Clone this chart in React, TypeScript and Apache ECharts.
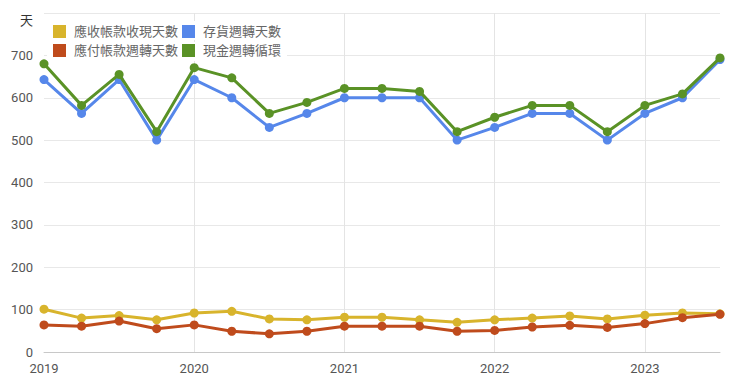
import React, { useEffect, useRef } from "react";
import * as echarts from "echarts";

const quarters = [
  "2019Q1", "2019Q2", "2019Q3", "2019Q4",
  "2020Q1", "2020Q2", "2020Q3", "2020Q4",
  "2021Q1", "2021Q2", "2021Q3", "2021Q4",
  "2022Q1", "2022Q2", "2022Q3", "2022Q4",
  "2023Q1", "2023Q2", "2023Q3",
];

const receivableDays = [101, 80, 86, 76, 92, 96, 78, 76, 82, 82, 76, 70, 76, 80, 85, 78, 87, 92, 90];
const inventoryDays = [643, 563, 643, 500, 643, 600, 530, 563, 600, 600, 600, 500, 530, 563, 563, 500, 563, 600, 690];
const payableDays = [64, 61, 73, 55, 64, 49, 43, 49, 61, 61, 61, 49, 51, 59, 63, 58, 67, 81, 89];
const cashCycle = [680, 582, 655, 520, 671, 647, 563, 589, 622, 622, 615, 520, 554, 582, 582, 520, 582, 609, 694];

const seriesNames = ["應收帳款收現天數", "存貨週轉天數", "應付帳款週轉天數", "現金週轉循環"];
const seriesColors = ["#d8b42c", "#5687ea", "#bf4b1c", "#5a9226"];

const FONT = "Roboto, 'Noto Sans CJK TC', sans-serif";

export default function App() {
  const ref = useRef<HTMLDivElement>(null);

  useEffect(() => {
    if (!ref.current) return;
    const chart = echarts.init(ref.current, undefined, { renderer: "svg" });
    const dataSets = [receivableDays, inventoryDays, payableDays, cashCycle];
    const legendCommon = {
      itemWidth: 13,
      itemHeight: 13,
      itemGap: 4,
      icon: "rect",
      backgroundColor: "#ffffff",
      textStyle: { color: "#666", fontSize: 13, fontFamily: FONT, padding: [0, 0, 0, 3] },
    };
    chart.setOption({
      animation: false,
      backgroundColor: "#ffffff",
      textStyle: { fontFamily: FONT },
      legend: [
        { ...legendCommon, left: 47, top: 21, padding: [4, 6, 2, 6], data: [seriesNames[0], seriesNames[1]] },
        { ...legendCommon, left: 47, top: 42, padding: [2, 6, 4, 6], data: [seriesNames[2], seriesNames[3]] },
      ],
      grid: { left: 44, right: 20, top: 13, bottom: 39, containLabel: false },
      xAxis: {
        type: "category",
        data: quarters,
        boundaryGap: false,
        axisLine: { show: true, lineStyle: { color: "#c8c8c8", width: 1 } },
        axisTick: { show: false },
        axisLabel: {
          interval: 3,
          color: "#555",
          fontSize: 13,
          fontFamily: FONT,
          margin: 10,
          formatter: (v: string) => v.slice(0, 4),
        },
        splitLine: {
          show: true,
          interval: (index: number) => index % 4 === 0 && index > 0,
          lineStyle: { color: "#e4e4e4", width: 1 },
        },
      },
      yAxis: {
        type: "value",
        min: 0,
        max: 800,
        interval: 100,
        name: "天",
        nameLocation: "end",
        nameGap: -7,
        nameTextStyle: {
          color: "#333",
          fontSize: 13,
          fontFamily: FONT,
          align: "right",
          verticalAlign: "middle",
          padding: [0, 11, 0, 0],
        },
        axisLine: { show: false },
        axisTick: { show: false },
        axisLabel: {
          color: "#555",
          fontSize: 13,
          fontFamily: FONT,
          margin: 11,
          formatter: (v: number) => (v === 800 ? "" : String(v)),
        },
        splitLine: { lineStyle: { color: "#e8e8e8", width: 1 } },
      },
      series: seriesNames.map((name, i) => ({
        name,
        type: "line",
        data: dataSets[i],
        color: seriesColors[i],
        symbol: "circle",
        symbolSize: 9,
        lineStyle: { width: 3, color: seriesColors[i] },
        itemStyle: { color: seriesColors[i] },
        z: 2 + i,
      })),
    });
    return () => chart.dispose();
  }, []);

  return <div ref={ref} style={{ width: 740, height: 391, position: "absolute", left: 0, top: 0 }} />;
}
